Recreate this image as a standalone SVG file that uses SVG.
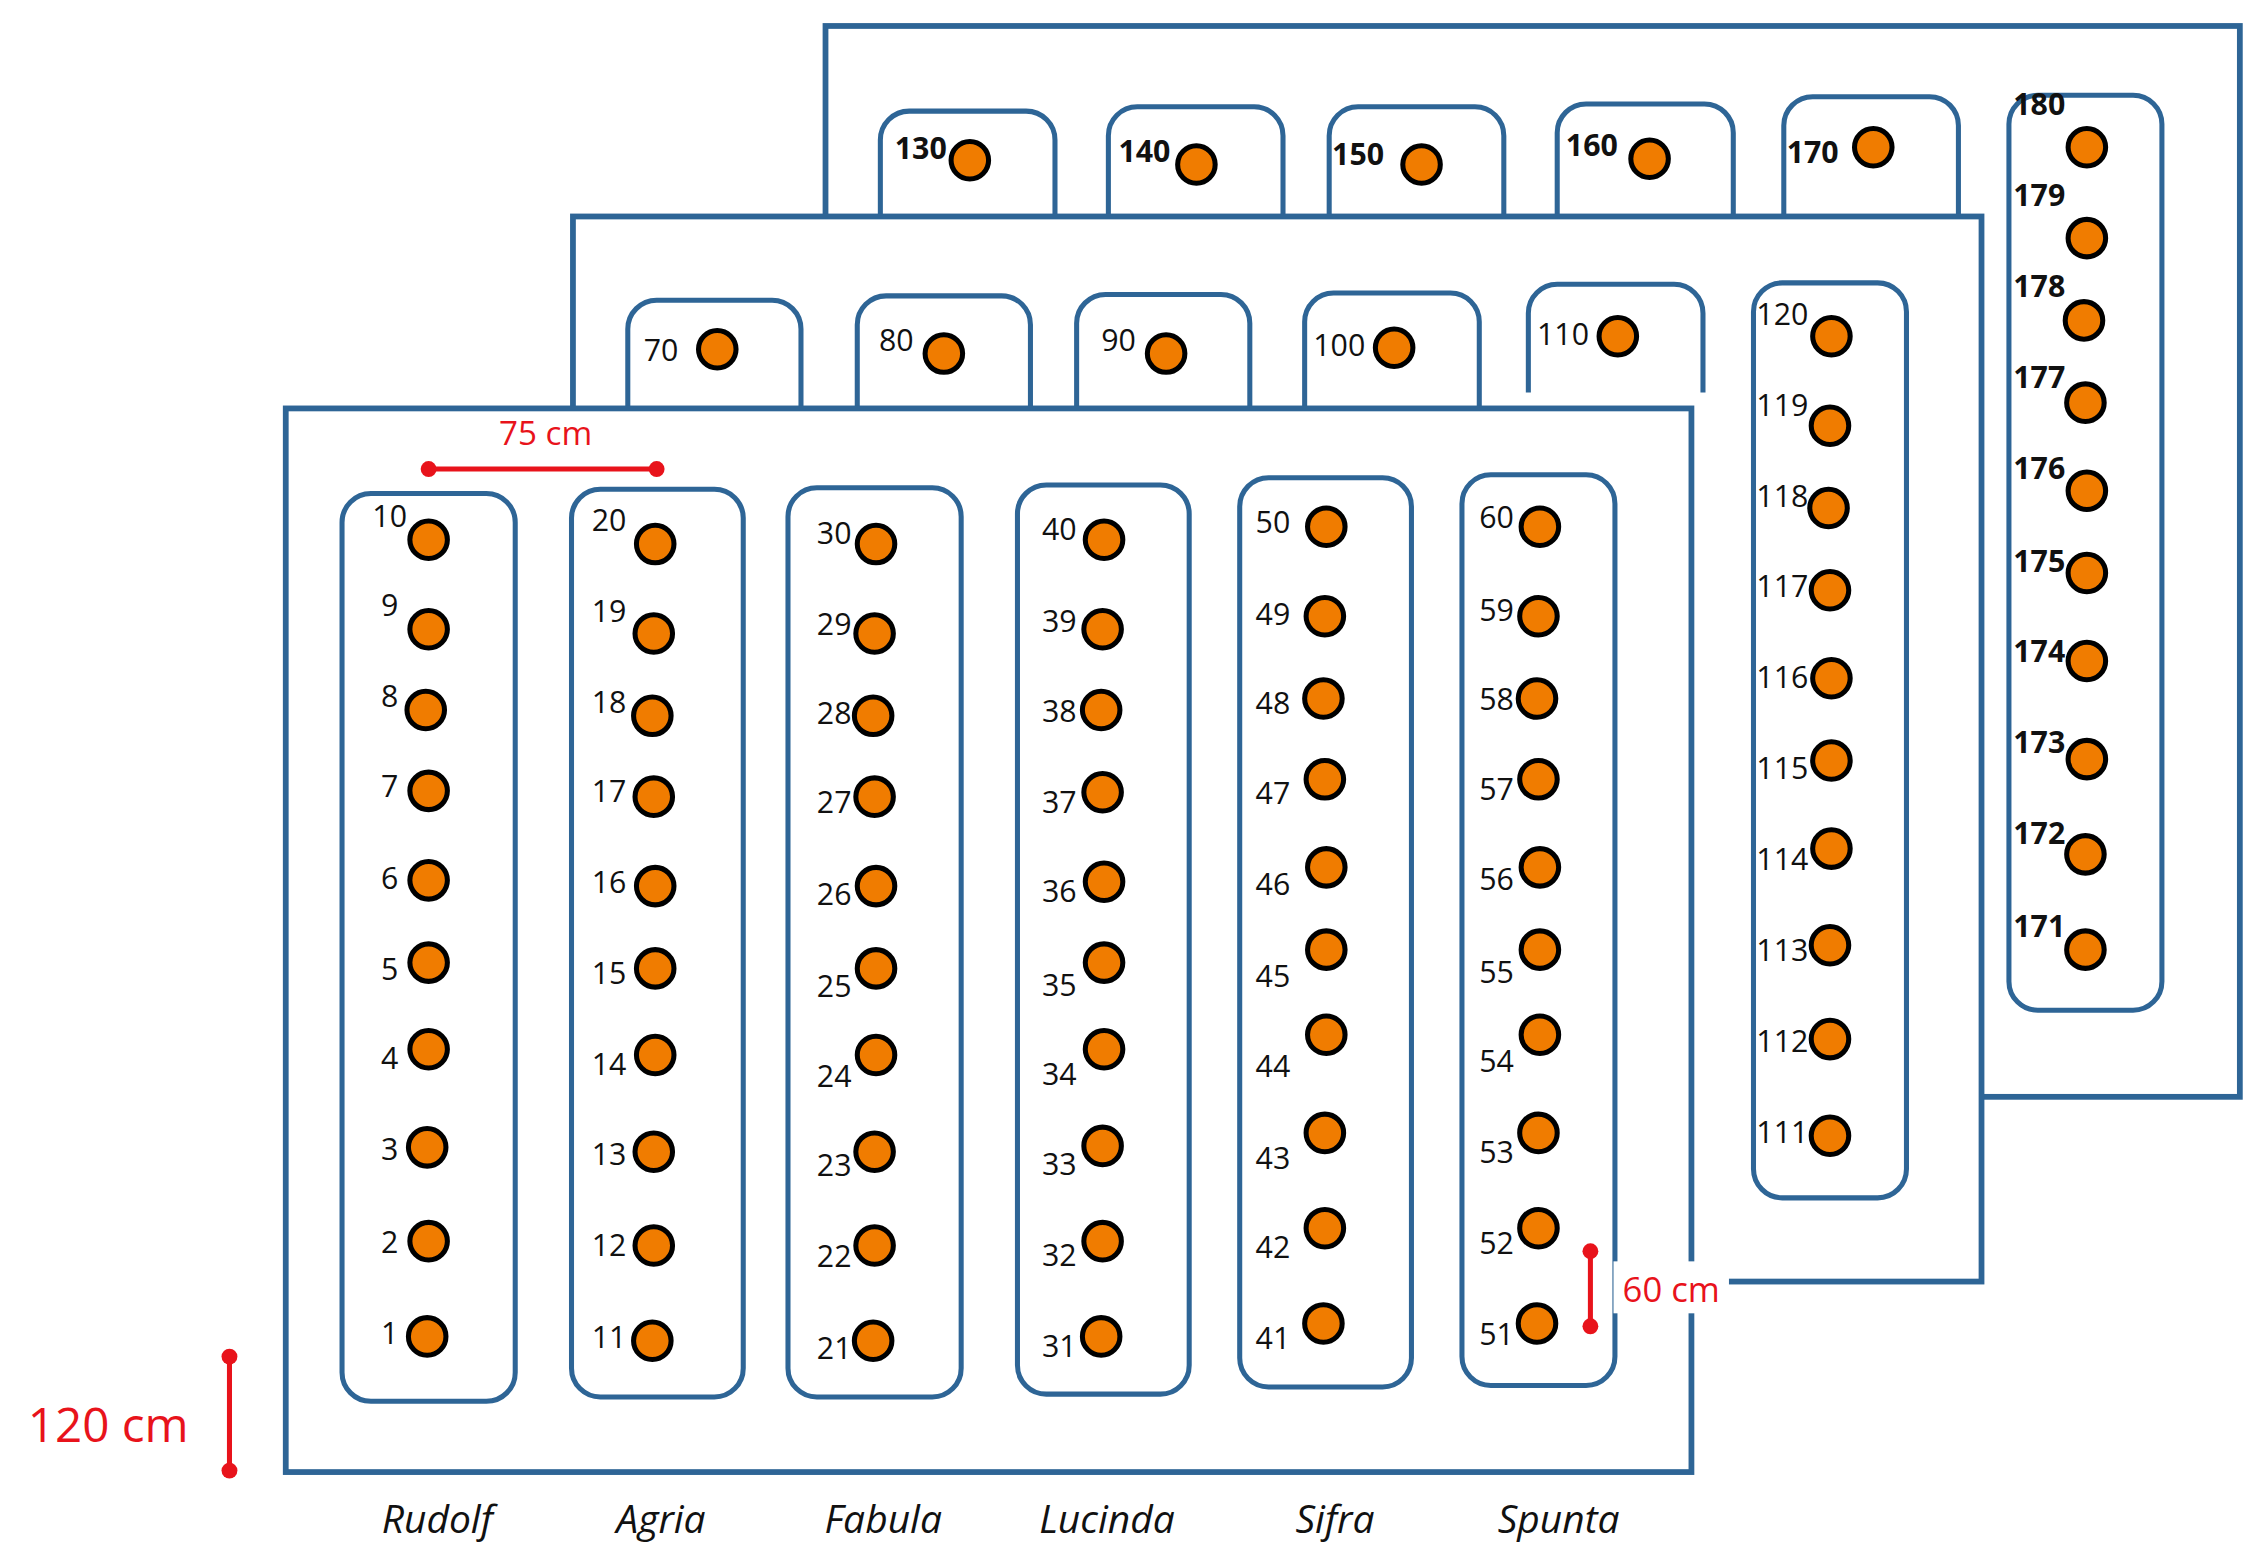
<svg xmlns="http://www.w3.org/2000/svg" width="2260" height="1566" viewBox="0 0 2260 1566">
<style>
.fr{fill:#fff;stroke:#2e6596;stroke-width:4}
.bed{fill:#fff;stroke:#2e6596;stroke-width:3.5}
.d{fill:#f07c00;stroke:#000;stroke-width:3.5}
text{font-family:"Open Sans","Liberation Sans",sans-serif;font-size:21px;fill:#111}
.b{font-weight:bold}
.e{text-anchor:end}
.v{font-style:italic;font-size:27px;text-anchor:middle}
.r{fill:#e8131b}
.rl{stroke:#e8131b;stroke-width:3.5}
</style>
<rect width="2260" height="1566" fill="#fff"/>
<g transform="scale(1.4432)">
<g id="field3">
<rect class="fr" x="572" y="18" width="980" height="742"/>
<rect class="bed" x="610" y="77" width="121" height="150" rx="20"/><circle class="d" cx="672" cy="111" r="13"/><text class="b" x="620" y="110">130</text>
<rect class="bed" x="768" y="74" width="121" height="150" rx="20"/><circle class="d" cx="829" cy="114" r="13"/><text class="b" x="775" y="112">140</text>
<rect class="bed" x="921" y="74" width="121" height="150" rx="20"/><circle class="d" cx="985" cy="114" r="13"/><text class="b" x="923" y="114">150</text>
<rect class="bed" x="1079" y="72" width="122" height="150" rx="20"/><circle class="d" cx="1143" cy="110" r="13"/><text class="b" x="1085" y="108">160</text>
<rect class="bed" x="1236" y="67" width="121" height="150" rx="20"/><circle class="d" cx="1298" cy="102" r="13"/><text class="b" x="1238" y="113">170</text>
<rect class="bed" x="1392" y="66" width="106" height="634" rx="20"/>
<g><circle class="d" cx="1446" cy="102" r="13"/><text class="b" x="1395" y="80">180</text>
<circle class="d" cx="1446" cy="165" r="13"/><text class="b" x="1395" y="143">179</text>
<circle class="d" cx="1444" cy="222" r="13"/><text class="b" x="1395" y="206">178</text>
<circle class="d" cx="1445" cy="279" r="13"/><text class="b" x="1395" y="269">177</text>
<circle class="d" cx="1446" cy="340" r="13"/><text class="b" x="1395" y="332">176</text>
<circle class="d" cx="1446" cy="397" r="13"/><text class="b" x="1395" y="396">175</text>
<circle class="d" cx="1446" cy="458" r="13"/><text class="b" x="1395" y="459">174</text>
<circle class="d" cx="1446" cy="526" r="13"/><text class="b" x="1395" y="522">173</text>
<circle class="d" cx="1445" cy="592" r="13"/><text class="b" x="1395" y="585">172</text>
<circle class="d" cx="1445" cy="658" r="13"/><text class="b" x="1395" y="649">171</text></g>
</g>
<g id="field2">
<rect class="fr" x="397" y="150" width="976" height="738"/>
<rect class="bed" x="435" y="208" width="120" height="140" rx="20"/><circle class="d" cx="497" cy="242" r="13"/><text x="446" y="250">70</text>
<rect class="bed" x="594" y="205" width="120" height="140" rx="20"/><circle class="d" cx="654" cy="245" r="13"/><text x="609" y="243">80</text>
<rect class="bed" x="746" y="204" width="120" height="140" rx="20"/><circle class="d" cx="808" cy="245" r="13"/><text x="763" y="243">90</text>
<rect class="bed" x="904" y="203" width="121" height="140" rx="20"/><circle class="d" cx="966" cy="241" r="13"/><text x="910" y="247">100</text>
<path class="bed" d="M1059 272 V217 a20 20 0 0 1 20 -20 H1160 a20 20 0 0 1 20 20 V272" fill="none"/><circle class="d" cx="1121" cy="233" r="13"/><text x="1065" y="239">110</text>
<rect class="bed" x="1215" y="196" width="106" height="634" rx="20"/>
<g><circle class="d" cx="1269" cy="233" r="13"/><text x="1217" y="225">120</text>
<circle class="d" cx="1268" cy="295" r="13"/><text x="1217" y="288">119</text>
<circle class="d" cx="1267" cy="352" r="13"/><text x="1217" y="351">118</text>
<circle class="d" cx="1268" cy="409" r="13"/><text x="1217" y="414">117</text>
<circle class="d" cx="1269" cy="470" r="13"/><text x="1217" y="477">116</text>
<circle class="d" cx="1269" cy="527" r="13"/><text x="1217" y="540">115</text>
<circle class="d" cx="1269" cy="588" r="13"/><text x="1217" y="603">114</text>
<circle class="d" cx="1268" cy="655" r="13"/><text x="1217" y="666">113</text>
<circle class="d" cx="1268" cy="720" r="13"/><text x="1217" y="729">112</text>
<circle class="d" cx="1268" cy="787" r="13"/><text x="1217" y="792">111</text></g>
</g>
<g id="field1">
<rect class="fr" x="198" y="283" width="974" height="737"/>
<g id="rudolf"><rect class="bed" x="237" y="342" width="120" height="629" rx="20"/>
<circle class="d" cx="297" cy="374" r="13"/><text class="e" x="282" y="365">10</text>
<circle class="d" cx="297" cy="436" r="13"/><text class="e" x="276" y="427">9</text>
<circle class="d" cx="295" cy="492" r="13"/><text class="e" x="276" y="490">8</text>
<circle class="d" cx="297" cy="548" r="13"/><text class="e" x="276" y="552">7</text>
<circle class="d" cx="297" cy="610" r="13"/><text class="e" x="276" y="616">6</text>
<circle class="d" cx="297" cy="667" r="13"/><text class="e" x="276" y="679">5</text>
<circle class="d" cx="297" cy="727" r="13"/><text class="e" x="276" y="741">4</text>
<circle class="d" cx="296" cy="795" r="13"/><text class="e" x="276" y="804">3</text>
<circle class="d" cx="297" cy="860" r="13"/><text class="e" x="276" y="868">2</text>
<circle class="d" cx="296" cy="926" r="13"/><text class="e" x="276" y="931">1</text></g>
<g id="agria"><rect class="bed" x="396" y="339" width="119" height="629" rx="20"/>
<circle class="d" cx="454" cy="377" r="13"/><text class="e" x="434" y="368">20</text>
<circle class="d" cx="453" cy="439" r="13"/><text class="e" x="434" y="431">19</text>
<circle class="d" cx="452" cy="496" r="13"/><text class="e" x="434" y="494">18</text>
<circle class="d" cx="453" cy="552" r="13"/><text class="e" x="434" y="556">17</text>
<circle class="d" cx="454" cy="614" r="13"/><text class="e" x="434" y="619">16</text>
<circle class="d" cx="454" cy="671" r="13"/><text class="e" x="434" y="682">15</text>
<circle class="d" cx="454" cy="731" r="13"/><text class="e" x="434" y="745">14</text>
<circle class="d" cx="453" cy="798" r="13"/><text class="e" x="434" y="807">13</text>
<circle class="d" cx="453" cy="863" r="13"/><text class="e" x="434" y="870">12</text>
<circle class="d" cx="452" cy="929" r="13"/><text class="e" x="434" y="934">11</text></g>
<g id="fabula"><rect class="bed" x="546" y="338" width="120" height="630" rx="20"/>
<circle class="d" cx="607" cy="377" r="13"/><text class="e" x="590" y="377">30</text>
<circle class="d" cx="606" cy="439" r="13"/><text class="e" x="590" y="440">29</text>
<circle class="d" cx="605" cy="496" r="13"/><text class="e" x="590" y="502">28</text>
<circle class="d" cx="606" cy="552" r="13"/><text class="e" x="590" y="563">27</text>
<circle class="d" cx="607" cy="614" r="13"/><text class="e" x="590" y="627">26</text>
<circle class="d" cx="607" cy="671" r="13"/><text class="e" x="590" y="691">25</text>
<circle class="d" cx="607" cy="731" r="13"/><text class="e" x="590" y="753">24</text>
<circle class="d" cx="606" cy="798" r="13"/><text class="e" x="590" y="815">23</text>
<circle class="d" cx="606" cy="863" r="13"/><text class="e" x="590" y="878">22</text>
<circle class="d" cx="605" cy="929" r="13"/><text class="e" x="590" y="942">21</text></g>
<g id="lucinda"><rect class="bed" x="705" y="336" width="119" height="630" rx="20"/>
<circle class="d" cx="765" cy="374" r="13"/><text class="e" x="746" y="374">40</text>
<circle class="d" cx="764" cy="436" r="13"/><text class="e" x="746" y="438">39</text>
<circle class="d" cx="763" cy="492" r="13"/><text class="e" x="746" y="500">38</text>
<circle class="d" cx="764" cy="549" r="13"/><text class="e" x="746" y="563">37</text>
<circle class="d" cx="765" cy="611" r="13"/><text class="e" x="746" y="625">36</text>
<circle class="d" cx="765" cy="667" r="13"/><text class="e" x="746" y="690">35</text>
<circle class="d" cx="765" cy="727" r="13"/><text class="e" x="746" y="752">34</text>
<circle class="d" cx="764" cy="794" r="13"/><text class="e" x="746" y="814">33</text>
<circle class="d" cx="764" cy="860" r="13"/><text class="e" x="746" y="877">32</text>
<circle class="d" cx="763" cy="926" r="13"/><text class="e" x="746" y="940">31</text></g>
<g id="sifra"><rect class="bed" x="859" y="331" width="119" height="630" rx="20"/>
<circle class="d" cx="919" cy="365" r="13"/><text class="e" x="894" y="369">50</text>
<circle class="d" cx="918" cy="427" r="13"/><text class="e" x="894" y="433">49</text>
<circle class="d" cx="917" cy="484" r="13"/><text class="e" x="894" y="495">48</text>
<circle class="d" cx="918" cy="540" r="13"/><text class="e" x="894" y="557">47</text>
<circle class="d" cx="919" cy="601" r="13"/><text class="e" x="894" y="620">46</text>
<circle class="d" cx="919" cy="658" r="13"/><text class="e" x="894" y="684">45</text>
<circle class="d" cx="919" cy="717" r="13"/><text class="e" x="894" y="746">44</text>
<circle class="d" cx="918" cy="785" r="13"/><text class="e" x="894" y="810">43</text>
<circle class="d" cx="918" cy="851" r="13"/><text class="e" x="894" y="872">42</text>
<circle class="d" cx="917" cy="917" r="13"/><text class="e" x="894" y="935">41</text></g>
<g id="spunta"><rect class="bed" x="1013" y="329" width="106" height="631" rx="20"/>
<circle class="d" cx="1067" cy="365" r="13"/><text class="e" x="1049" y="366">60</text>
<circle class="d" cx="1066" cy="427" r="13"/><text class="e" x="1049" y="430">59</text>
<circle class="d" cx="1065" cy="484" r="13"/><text class="e" x="1049" y="492">58</text>
<circle class="d" cx="1066" cy="540" r="13"/><text class="e" x="1049" y="554">57</text>
<circle class="d" cx="1067" cy="601" r="13"/><text class="e" x="1049" y="617">56</text>
<circle class="d" cx="1067" cy="658" r="13"/><text class="e" x="1049" y="681">55</text>
<circle class="d" cx="1067" cy="717" r="13"/><text class="e" x="1049" y="743">54</text>
<circle class="d" cx="1066" cy="785" r="13"/><text class="e" x="1049" y="806">53</text>
<circle class="d" cx="1066" cy="851" r="13"/><text class="e" x="1049" y="869">52</text>
<circle class="d" cx="1065" cy="917" r="13"/><text class="e" x="1049" y="932">51</text></g>
</g>
<g id="labels">
<text class="v" x="303" y="1062">Rudolf</text>
<text class="v" x="458" y="1062">Agria</text>
<text class="v" x="612" y="1062">Fabula</text>
<text class="v" x="767" y="1062">Lucinda</text>
<text class="v" x="925" y="1062">Sifra</text>
<text class="v" x="1080" y="1062">Spunta</text>
</g>
<g id="dimensions">
<line class="rl" x1="297" y1="325" x2="455" y2="325"/><circle class="r" cx="297" cy="325" r="5.5"/><circle class="r" cx="455" cy="325" r="5.5"/>
<text x="378" y="308" text-anchor="middle" style="fill:#e8131b;font-size:23px">75 cm</text>
<line class="rl" x1="1102" y1="867" x2="1102" y2="919"/><circle class="r" cx="1102" cy="867" r="5.5"/><circle class="r" cx="1102" cy="919" r="5.5"/>
<rect x="1118" y="874" width="80" height="36" fill="#fff"/>
<text x="1158" y="902" text-anchor="middle" style="fill:#e8131b;font-size:24px">60 cm</text>
<line class="rl" x1="159" y1="940" x2="159" y2="1019"/><circle class="r" cx="159" cy="940" r="5.5"/><circle class="r" cx="159" cy="1019" r="5.5"/>
<text x="75" y="999" text-anchor="middle" style="fill:#e8131b;font-size:33px">120 cm</text>
</g>
</g>
</svg>
